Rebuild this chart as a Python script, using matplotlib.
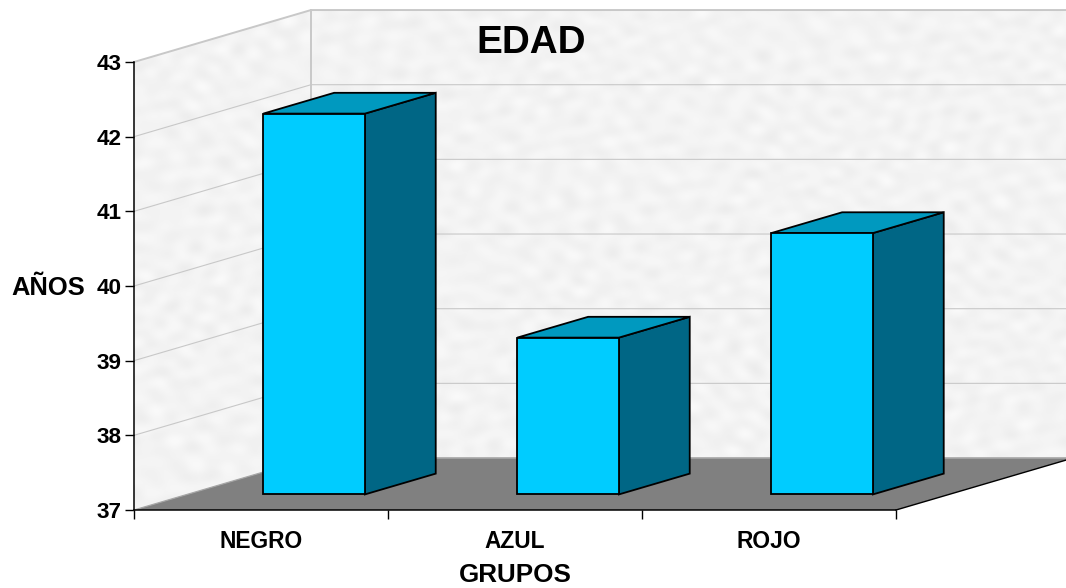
import numpy as np
import matplotlib
matplotlib.use("Agg")
import matplotlib.pyplot as plt
from matplotlib.patches import Polygon

plt.rcParams["font.family"] = ["Liberation Sans", "DejaVu Sans"]
plt.rcParams["font.weight"] = "bold"

# ----- DATA -----
groups = ["NEGRO", "AZUL", "ROJO"]
ages = [42.1, 39.1, 40.5]
year_ticks = [37, 38, 39, 40, 41, 42, 43]

# ----- 3D LOOK -----
y_base = 37
y_top = 43
depth_x = 0.697   # how far the back wall is shifted, in category units
depth_y = 0.696   # same shift, in axis units
bar_width = 0.40
bar_front = 0.30  # bars sit between these two fractions of the floor depth
bar_back = 0.70

front_color = "#00ccff"
top_color = "#0099bf"
side_color = "#006685"
floor_color = "#808080"
grid_color = "#c8c8c8"


def shift(x, y, d):
    # move a point d of the way towards the back wall
    return (x + depth_x * d, y + depth_y * d)


fig = plt.figure(figsize=(10.66, 5.88), dpi=100)
ax = fig.add_axes([134 / 1066, 78 / 588, 762 / 1066, 448 / 588])
n = len(groups)

# ----- WALLS -----
wall_pts = [shift(0, y_base, 0), shift(0, y_top, 0), shift(0, y_top, 1),
            shift(n, y_top, 1), shift(n, y_base, 1)]
wall = Polygon(wall_pts, closed=True, transform=ax.transData, fc="none", ec="none")
ax.add_patch(wall)

# soft mottled surface on the walls, built from crossed waves so it has no direction
gx, gy = np.meshgrid(np.linspace(0, 1, 300), np.linspace(0, 1, 170))
mottle = np.zeros_like(gx)
for fx, fy, ph in [(12, 9, 0.3), (-21, 15, 1.7), (34, -7, 2.9), (6, 24, 4.1),
                   (-19, -22, 5.3), (27, 16, 0.9), (-10, 19, 2.2), (15, -30, 3.6),
                   (36, 12, 1.2), (-31, 9, 4.7)]:
    warp = np.sin(13 * gx + 5 * ph) * np.cos(11 * gy - 3 * ph)
    mottle += np.sin(2 * np.pi * (fx * gx + fy * gy) + ph + 3.5 * warp)
mottle = 0.953 + 0.0038 * mottle
img = ax.imshow(mottle, extent=(0, n + depth_x, y_base, y_top + depth_y), origin="lower",
                cmap="gray", vmin=0, vmax=1, aspect="auto", interpolation="bicubic", zorder=0)
img.set_clip_box(fig.bbox)
img.set_clip_path(wall)
ax.set_xlim(0, n)
ax.set_ylim(y_base, y_top)

# ----- GRID -----
for t in year_ticks[1:]:
    lw = 1.4 if t == y_top else 0.8
    p0, p1, p2 = shift(0, t, 0), shift(0, t, 1), shift(n, t, 1)
    ax.plot([p0[0], p1[0], p2[0]], [p0[1], p1[1], p2[1]], color=grid_color, lw=lw,
            clip_on=False, zorder=1, solid_joinstyle="miter")
back_low, back_high = shift(0, y_base, 1), shift(0, y_top, 1)
ax.plot([back_low[0], back_high[0]], [back_low[1], back_high[1]], color=grid_color,
        lw=1.4, clip_on=False, zorder=1)

# ----- FLOOR -----
floor_pts = [shift(0, y_base, 0), shift(n, y_base, 0), shift(n, y_base, 1), shift(0, y_base, 1)]
ax.add_patch(Polygon(floor_pts, closed=True, fc=floor_color, ec="none", clip_on=False, zorder=2))
ax.plot([floor_pts[3][0], floor_pts[2][0]], [floor_pts[3][1], floor_pts[2][1]],
        color="#a6a6a6", lw=1.2, clip_on=False, zorder=2)
ax.plot([floor_pts[0][0], floor_pts[3][0]], [floor_pts[0][1], floor_pts[3][1]],
        color="#a6a6a6", lw=0.9, clip_on=False, zorder=2)
ax.plot([floor_pts[1][0], floor_pts[2][0]], [floor_pts[1][1], floor_pts[2][1]],
        color="black", lw=1.0, clip_on=False, zorder=2)

# ----- BARS -----
for i, age in enumerate(ages):
    left = i + 0.5 - bar_width / 2
    right = i + 0.5 + bar_width / 2
    fl_b = shift(left, y_base, bar_front)
    fr_b = shift(right, y_base, bar_front)
    fr_t = shift(right, age, bar_front)
    fl_t = shift(left, age, bar_front)
    br_b = shift(right, y_base, bar_back)
    br_t = shift(right, age, bar_back)
    bl_t = shift(left, age, bar_back)
    faces = [([fr_b, br_b, br_t, fr_t], side_color),
             ([fl_t, fr_t, br_t, bl_t], top_color),
             ([fl_b, fr_b, fr_t, fl_t], front_color)]
    for pts, c in faces:
        ax.add_patch(Polygon(pts, closed=True, fc=c, ec="black", lw=1.3,
                             joinstyle="miter", clip_on=False, zorder=3))

# ----- AXES -----
for s in ["top", "right"]:
    ax.spines[s].set_visible(False)
for s in ["left", "bottom"]:
    ax.spines[s].set_linewidth(1.1)
    ax.spines[s].set_zorder(5)
ax.patch.set_alpha(0)

ax.set_yticks(year_ticks)
ax.tick_params(axis="y", length=6.5, width=1.0, labelsize=16.2, pad=2.5)
ax.set_xticks(range(n + 1))
ax.set_xticklabels([])
ax.tick_params(axis="x", which="major", length=6.5, width=1.0)
ax.set_xticks([i + 0.5 for i in range(n)], groups, minor=True)
ax.tick_params(axis="x", which="minor", length=0, labelsize=16.4, pad=14.5)

fig.text(531 / 1066, 1 - 43 / 588, "EDAD", fontsize=27.8, ha="center", va="center")
fig.text(48.5 / 1066, 1 - 288 / 588, "AÑOS", fontsize=18.4, ha="center", va="center")
fig.text(515 / 1066, 1 - 575 / 588, "GRUPOS", fontsize=18.7, ha="center", va="center")

fig.savefig("out.png", dpi=100, facecolor="white")
